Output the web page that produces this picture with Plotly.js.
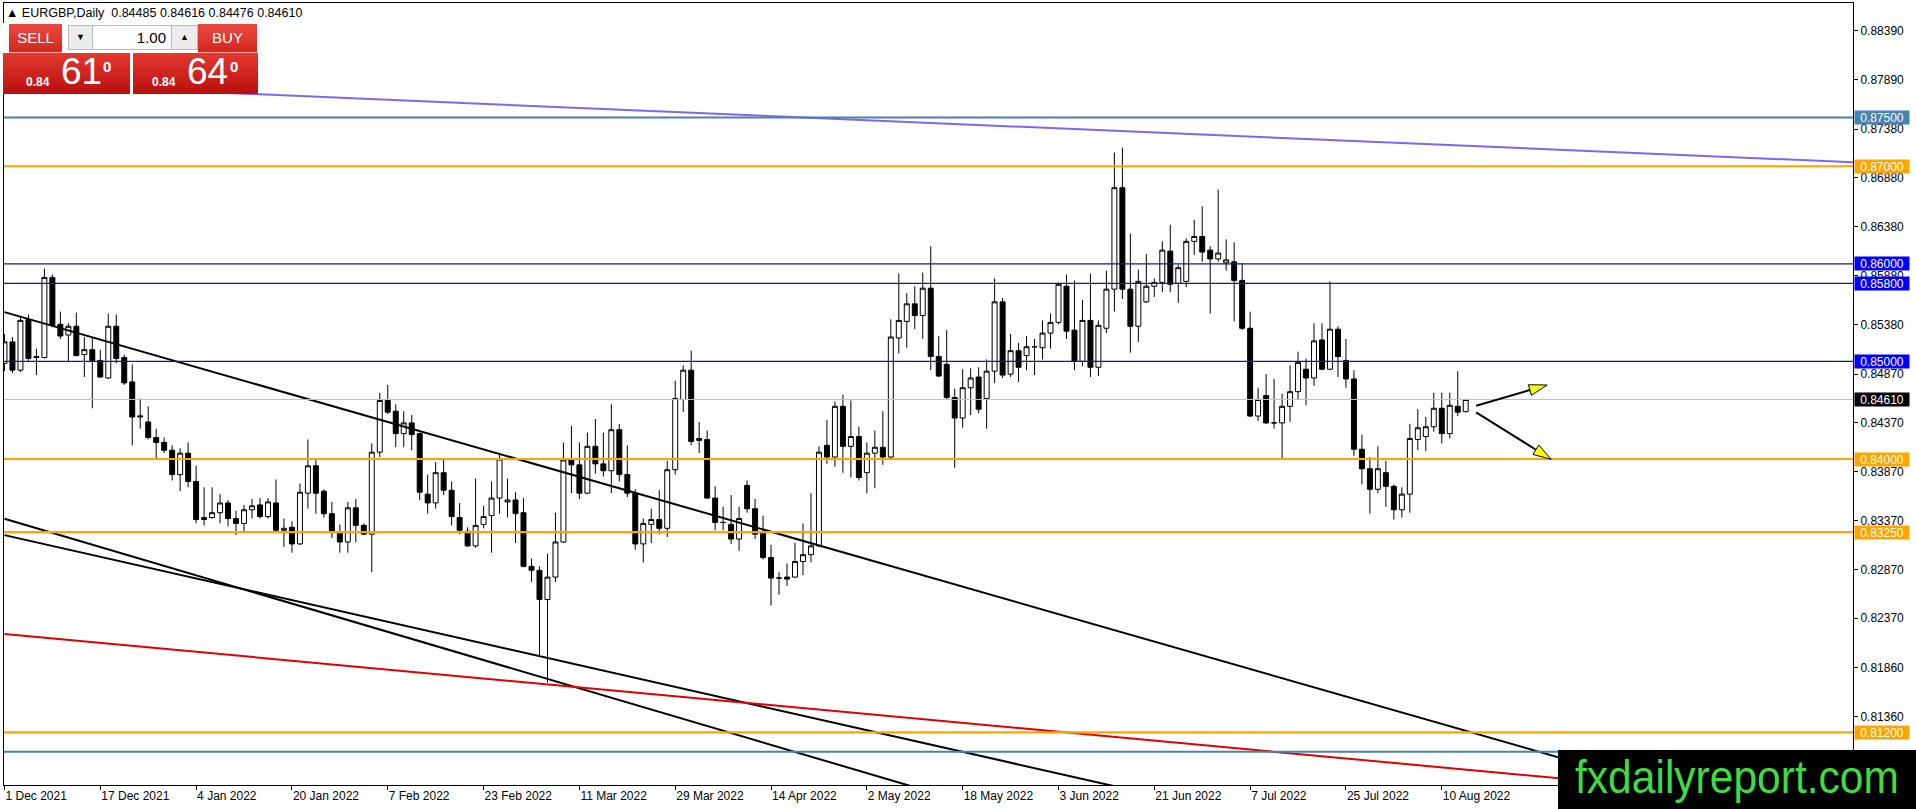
<!DOCTYPE html>
<html><head><meta charset="utf-8">
<script src="https://cdn.plot.ly/plotly-3.0.1.min.js"></script>
<style>
html,body{margin:0;padding:0;background:#fff;width:1916px;height:809px;overflow:hidden;font-family:"Liberation Sans",Arial,sans-serif;}
#chart{position:absolute;left:0;top:0;width:1916px;height:809px;}
.ov{position:absolute;z-index:5;}
#hdr{left:6px;top:5px;font-size:12.5px;line-height:16px;color:#000;white-space:pre;}
#panel{left:3px;top:23px;width:255px;height:71px;background:#fff;}
.btn{position:absolute;color:#fff;font-size:15px;text-align:center;background:linear-gradient(#ea4a40,#d3261e);border-bottom:1px solid #f0a0a0;}
.ctl{position:absolute;background:#ececec;border:1px solid #b8b8b8;box-sizing:border-box;text-align:center;font-size:9px;color:#000;}
.box{position:absolute;background:linear-gradient(#e3392f,#b80f0f);color:#fff;}
.sm{position:absolute;font-size:12px;font-weight:bold;}
.big{position:absolute;font-size:37px;}
.sup{position:absolute;font-size:15px;font-weight:bold;}
#wm{left:1558px;top:750px;width:358px;height:59px;background:#000;overflow:hidden;}
#wm span{position:absolute;left:17px;top:1px;font-size:46px;line-height:52px;color:#3fdc3f;transform:scaleX(0.925);transform-origin:left top;white-space:nowrap;}
</style></head><body>
<div id="chart"></div>
<div id="hdr" class="ov">▲ EURGBP,Daily  0.84485 0.84616 0.84476 0.84610</div>
<div id="panel" class="ov">
  <div class="btn" style="left:6px;top:1px;width:53px;height:28px;line-height:28px;">SELL</div>
  <div class="ctl" style="left:65px;top:2px;width:25px;height:25px;line-height:23px;">▼</div>
  <div class="ctl" style="left:89px;top:2px;width:80px;height:25px;line-height:23px;background:#fff;text-align:right;padding-right:5px;font-size:15px;">1.00</div>
  <div class="ctl" style="left:168px;top:2px;width:27px;height:25px;line-height:23px;">▲</div>
  <div class="btn" style="left:195px;top:1px;width:59px;height:28px;line-height:28px;">BUY</div>
  <div class="box" style="left:0px;top:30px;width:127px;height:41px;">
    <span class="sm" style="left:23px;top:22px;">0.84</span>
    <span class="big" style="left:58px;top:-2px;">61</span>
    <span class="sup" style="left:100px;top:5px;">0</span>
  </div>
  <div class="box" style="left:130px;top:30px;width:125px;height:41px;">
    <span class="sm" style="left:19px;top:22px;">0.84</span>
    <span class="big" style="left:54px;top:-2px;">64</span>
    <span class="sup" style="left:97px;top:5px;">0</span>
  </div>
</div>
<div id="wm" class="ov"><span>fxdailyreport.com</span></div>
<script>
// ---- data (daily EURGBP bars, index 0 = 1 Dec 2021) ----
const opens = [
0.8498,0.8520,0.8491,0.8543,0.8504,0.8504,0.8586,0.8538,0.8527,0.8536,
0.8507,0.8512,0.8501,0.8483,0.8536,0.8504,0.8479,0.8443,0.8438,0.8422,
0.8417,0.8409,0.8384,0.8406,0.8377,0.8338,0.8340,0.8345,0.8355,0.8339,
0.8334,0.8348,0.8353,0.8341,0.8355,0.8327,0.8330,0.8313,0.8365,0.8393,
0.8367,0.8344,0.8324,0.8315,0.8350,0.8332,0.8323,0.8407,0.8460,0.8449,
0.8426,0.8437,0.8426,0.8364,0.8355,0.8386,0.8368,0.8340,0.8326,0.8311,
0.8333,0.8342,0.8360,0.8356,0.8358,0.8345,0.8290,0.8286,0.8256,0.8279,
0.8315,0.8399,0.8394,0.8365,0.8413,0.8395,0.8388,0.8430,0.8384,0.8365,
0.8313,0.8333,0.8338,0.8329,0.8389,0.8461,0.8491,0.8419,0.8420,0.8360,
0.8335,0.8333,0.8318,0.8373,0.8349,0.8324,0.8299,0.8278,0.8279,0.8279,
0.8295,0.8302,0.8311,0.8414,0.8402,0.8454,0.8413,0.8423,0.8386,0.8406,
0.8412,0.8402,0.8524,0.8541,0.8559,0.8547,0.8575,0.8505,0.8497,0.8463,
0.8442,0.8473,0.8484,0.8462,0.8490,0.8561,0.8487,0.8511,0.8506,0.8515,
0.8514,0.8529,0.8540,0.8577,0.8532,0.8500,0.8542,0.8494,0.8534,0.8574,
0.8678,0.8574,0.8536,0.8561,0.8577,0.8581,0.8613,0.8580,0.8582,0.8623,
0.8628,0.8614,0.8605,0.8601,0.8602,0.8583,0.8534,0.8444,0.8465,0.8437,
0.8437,0.8454,0.8469,0.8492,0.8483,0.8522,0.8492,0.8533,0.8501,0.8482,
0.8410,0.8390,0.8369,0.8386,0.8372,0.8348,0.8364,0.8420,0.8423,0.8433,
0.8452,0.8426,0.8454,0.84485];
const highs = [
0.8528,0.8525,0.8546,0.8548,0.8513,0.8595,0.8589,0.8551,0.8539,0.8550,
0.8525,0.8525,0.8512,0.8549,0.8548,0.8507,0.8497,0.8462,0.8454,0.8431,
0.8422,0.8414,0.8411,0.8417,0.8393,0.8371,0.8371,0.8364,0.8358,0.8347,
0.8353,0.8359,0.8360,0.8360,0.8379,0.8339,0.8336,0.8375,0.8420,0.8400,
0.8369,0.8356,0.8333,0.8356,0.8359,0.8334,0.8416,0.8468,0.8476,0.8456,
0.8449,0.8445,0.8427,0.8384,0.8397,0.8399,0.8377,0.8355,0.8330,0.8380,
0.8352,0.8377,0.8405,0.8380,0.8366,0.8360,0.8298,0.8290,0.8303,0.8345,
0.8417,0.8434,0.8417,0.8427,0.8441,0.8427,0.8456,0.8436,0.8414,0.8369,
0.8339,0.8349,0.8368,0.8398,0.8480,0.8496,0.8511,0.8438,0.8429,0.8372,
0.8351,0.8363,0.8351,0.8378,0.8359,0.8342,0.8312,0.8284,0.8293,0.8314,
0.8334,0.8365,0.8413,0.8440,0.8459,0.8466,0.8460,0.8433,0.8417,0.8429,
0.8449,0.8543,0.8590,0.8570,0.8577,0.8591,0.8618,0.8526,0.8532,0.8472,
0.8492,0.8493,0.8494,0.8502,0.8585,0.8565,0.8528,0.8519,0.8526,0.8523,
0.8542,0.8549,0.8581,0.8589,0.8583,0.8563,0.8590,0.8542,0.8593,0.8714,
0.8719,0.8631,0.8594,0.8610,0.8585,0.8623,0.8640,0.8599,0.8626,0.8645,
0.8659,0.8618,0.8676,0.8625,0.8622,0.8601,0.8551,0.8473,0.8487,0.8482,
0.8467,0.8496,0.8510,0.8503,0.8539,0.8539,0.8582,0.8536,0.8523,0.8491,
0.8425,0.8402,0.8413,0.8398,0.8374,0.8371,0.8436,0.8451,0.8443,0.8468,
0.8468,0.8468,0.8490,0.84616];
const lows = [
0.8490,0.8488,0.8489,0.8500,0.8486,0.8503,0.8535,0.8523,0.8500,0.8505,
0.8484,0.8452,0.8483,0.8482,0.8498,0.8476,0.8414,0.8431,0.8420,0.8401,
0.8406,0.8378,0.8367,0.8371,0.8334,0.8332,0.8339,0.8334,0.8331,0.8322,
0.8326,0.8339,0.8339,0.8339,0.8326,0.8310,0.8304,0.8312,0.8349,0.8344,
0.8340,0.8319,0.8304,0.8304,0.8315,0.8322,0.8284,0.8402,0.8446,0.8412,
0.8412,0.8409,0.8358,0.8344,0.8349,0.8363,0.8332,0.8323,0.8310,0.8309,
0.8329,0.8304,0.8344,0.8340,0.8314,0.8289,0.8274,0.8199,0.8171,0.8274,
0.8314,0.8365,0.8359,0.8364,0.8385,0.8382,0.8365,0.8377,0.8361,0.8307,
0.8294,0.8314,0.8323,0.8320,0.8384,0.8448,0.8414,0.8406,0.8359,0.8327,
0.8327,0.8313,0.8306,0.8345,0.8318,0.8297,0.8250,0.8261,0.8270,0.8278,
0.8281,0.8294,0.8310,0.8395,0.8392,0.8386,0.8381,0.8378,0.8365,0.8370,
0.8394,0.8401,0.8508,0.8514,0.8533,0.8523,0.8491,0.8484,0.8461,0.8391,
0.8432,0.8445,0.8447,0.8431,0.8478,0.8483,0.8484,0.8479,0.8491,0.8486,
0.8502,0.8513,0.8538,0.8523,0.8491,0.8495,0.8484,0.8485,0.8529,0.8551,
0.8564,0.8509,0.8520,0.8560,0.8566,0.8571,0.8571,0.8560,0.8576,0.8609,
0.8602,0.8549,0.8602,0.8593,0.8541,0.8532,0.8443,0.8439,0.8436,0.8431,
0.8401,0.8438,0.8461,0.8455,0.8475,0.8491,0.8491,0.8484,0.8473,0.8403,
0.8374,0.8344,0.8365,0.8351,0.8338,0.8340,0.8345,0.8409,0.8408,0.8428,
0.8416,0.8421,0.8444,0.84476];
const closes = [
0.8520,0.8491,0.8542,0.8503,0.8505,0.8586,0.8537,0.8526,0.8536,0.8506,
0.8512,0.8501,0.8484,0.8536,0.8503,0.8478,0.8443,0.8444,0.8422,0.8417,
0.8409,0.8384,0.8406,0.8377,0.8338,0.8340,0.8345,0.8355,0.8339,0.8334,
0.8348,0.8352,0.8341,0.8356,0.8327,0.8329,0.8313,0.8366,0.8393,0.8365,
0.8344,0.8326,0.8315,0.8350,0.8332,0.8323,0.8407,0.8460,0.8448,0.8426,
0.8437,0.8425,0.8366,0.8355,0.8386,0.8368,0.8341,0.8327,0.8311,0.8332,
0.8341,0.8360,0.8400,0.8358,0.8344,0.8290,0.8286,0.8256,0.8279,0.8315,
0.8399,0.8394,0.8365,0.8413,0.8395,0.8388,0.8430,0.8384,0.8365,0.8313,
0.8334,0.8338,0.8329,0.8389,0.8462,0.8491,0.8418,0.8421,0.8360,0.8335,
0.8335,0.8318,0.8339,0.8349,0.8323,0.8299,0.8278,0.8278,0.8277,0.8295,
0.8302,0.8311,0.8407,0.8402,0.8454,0.8413,0.8423,0.8381,0.8406,0.8412,
0.8402,0.8525,0.8542,0.8559,0.8547,0.8575,0.8505,0.8485,0.8463,0.8442,
0.8473,0.8483,0.8451,0.8490,0.8561,0.8486,0.8511,0.8494,0.8515,0.8515,
0.8529,0.8540,0.8579,0.8531,0.8500,0.8542,0.8494,0.8537,0.8574,0.8678,
0.8574,0.8536,0.8582,0.8577,0.8581,0.8614,0.8579,0.8596,0.8623,0.8628,
0.8612,0.8605,0.8611,0.8604,0.8583,0.8534,0.8444,0.8461,0.8437,0.8437,
0.8454,0.8469,0.8499,0.8483,0.8521,0.8492,0.8533,0.8505,0.8482,0.8410,
0.8390,0.8369,0.8390,0.8372,0.8348,0.8364,0.8421,0.8432,0.8433,0.8452,
0.8426,0.8455,0.8448,0.84610];

const dateTickIdx = [0,12,24,36,48,60,72,84,96,108,120,132,144,156,168,180];
const dateTickLabels = ['1 Dec 2021','17 Dec 2021','4 Jan 2022','20 Jan 2022','7 Feb 2022','23 Feb 2022',
  '11 Mar 2022','29 Mar 2022','14 Apr 2022','2 May 2022','18 May 2022','3 Jun 2022','21 Jun 2022',
  '7 Jul 2022','25 Jul 2022','10 Aug 2022'];
const priceTicks = [0.88390,0.87890,0.87380,0.86880,0.86380,0.85880,0.85380,0.84870,0.84370,
  0.83870,0.83370,0.82870,0.82370,0.81860,0.81360];

// horizontal levels
const levelPrices = [0.8750,0.8700,0.8600,0.8580,0.8500,0.8461,0.8400,0.8325,0.8120,0.8100];
const levelColors = ['#4682b4','#ffa500','#14149c','#14149c','#14149c','#c0c0c0','#ffa500','#ffa500','#ffa500','#4682b4'];
const levelWidths = [2,2,1.3,1.3,1.3,1,2.2,2.2,2.2,2];
// price tags on the right axis
const tagPrices = [0.8750,0.8700,0.8600,0.8580,0.8500,0.8461,0.8400,0.8325,0.8120];
const tagColors = ['#4682b4','#ffa500','#0000ff','#0000ff','#0000ff','#000000','#ffa500','#ffa500','#ffa500'];

// trend lines: start / end (bar index, price)
const trendX0 = [0, 0, 0, 0, 0];
const trendY0 = [0.87848, 0.85505, 0.83388, 0.83220, 0.82207];
const trendX1 = [231.6, 231.6, 115, 140.5, 231.6];
const trendY1 = [0.87040, 0.80076, 0.80613, 0.80620, 0.80449];
const trendColors = ['#7b68ee','#000000','#000000','#000000','#e00000'];

// arrows (bar index, price)
const arrowX0 = [184.3, 184.3];
const arrowY0 = [0.84546, 0.84478];
const arrowX1 = [193.2, 193.7];
const arrowY1 = [0.84758, 0.83997];

// ---- chart ----
const xMin = -0.06, xMax = 231.5, yMin = 0.80660, yMax = 0.88672;
const W = 1916, H = 809, mL = 4, mR = 63, mT = 3, mB = 24;
const pxX = (W - mL - mR) / (xMax - xMin);
const pxY = (H - mT - mB) / (yMax - yMin);
const idx = opens.map((_, i) => i);

const traces = [];
trendX0.forEach((x0, k) => {
  traces.push({type:'scatter', mode:'lines', x:[x0, trendX1[k]], y:[trendY0[k], trendY1[k]],
    line:{color:trendColors[k], width:2}, hoverinfo:'skip'});
});
traces.push({
  type:'candlestick', x:idx, open:opens, high:highs, low:lows, close:closes,
  increasing:{line:{color:'#000', width:1}, fillcolor:'#ffffff'},
  decreasing:{line:{color:'#000', width:1}, fillcolor:'#000000'},
  whiskerwidth:0, hoverinfo:'skip'
});

const shapes = levelPrices.map((p, k) => ({type:'line', xref:'paper', x0:0, x1:1, yref:'y', y0:p, y1:p,
  line:{color:levelColors[k], width:levelWidths[k]}, layer:'above'}));

arrowX0.forEach((x0, k) => {
  const x1 = arrowX1[k], y1 = arrowY1[k], y0 = arrowY0[k];
  const dx = (x1 - x0) * pxX, dy = (y1 - y0) * pxY;
  const L = Math.hypot(dx, dy), ux = dx / L, uy = dy / L;
  const hl = 18, hw = 5.5;
  const bx = x1 - ux * hl / pxX, by = y1 - uy * hl / pxY;
  const nx = -uy, ny = ux;
  const p1x = bx + nx * hw / pxX, p1y = by + ny * hw / pxY;
  const p2x = bx - nx * hw / pxX, p2y = by - ny * hw / pxY;
  shapes.push({type:'line', xref:'x', yref:'y', x0:x0, y0:y0, x1:bx, y1:by, line:{color:'#000', width:2}, layer:'above'});
  shapes.push({type:'path', xref:'x', yref:'y', path:`M${x1},${y1} L${p1x},${p1y} L${p2x},${p2y} Z`,
    fillcolor:'#ffff00', line:{color:'#000', width:1}, layer:'above'});
});

const annotations = tagPrices.map((p, k) => ({xref:'paper', x:1, xanchor:'left', xshift:1, yref:'y', y:p,
  yanchor:'middle', text:p.toFixed(5), showarrow:false, bgcolor:tagColors[k], borderpad:1, width:52, height:11,
  align:'center', font:{family:'Liberation Sans, Arial', size:12, color:'#ffffff'}}));

const layout = {
  width:W, height:H, margin:{l:mL, r:mR, t:mT, b:mB, pad:0},
  paper_bgcolor:'#ffffff', plot_bgcolor:'#ffffff', showlegend:false,
  boxgap:0.38, boxgroupgap:0,
  xaxis:{range:[xMin, xMax], showgrid:false, zeroline:false, showline:true, linecolor:'#000', linewidth:1, mirror:true,
    ticks:'outside', ticklen:4, tickcolor:'#000', tickvals:dateTickIdx, ticktext:dateTickLabels,
    ticklabelposition:'outside right', tickfont:{family:'Liberation Sans, Arial', size:12, color:'#000'},
    rangeslider:{visible:false}, fixedrange:true},
  yaxis:{range:[yMin, yMax], side:'right', showgrid:false, zeroline:false, showline:true, linecolor:'#000', linewidth:1, mirror:true,
    ticks:'outside', ticklen:4, tickcolor:'#000', tickvals:priceTicks, ticktext:priceTicks.map(v => v.toFixed(5)),
    tickfont:{family:'Liberation Sans, Arial', size:12, color:'#000'}, fixedrange:true},
  shapes:shapes, annotations:annotations
};
Plotly.newPlot('chart', traces, layout, {staticPlot:true, displayModeBar:false});
</script>
</body></html>
